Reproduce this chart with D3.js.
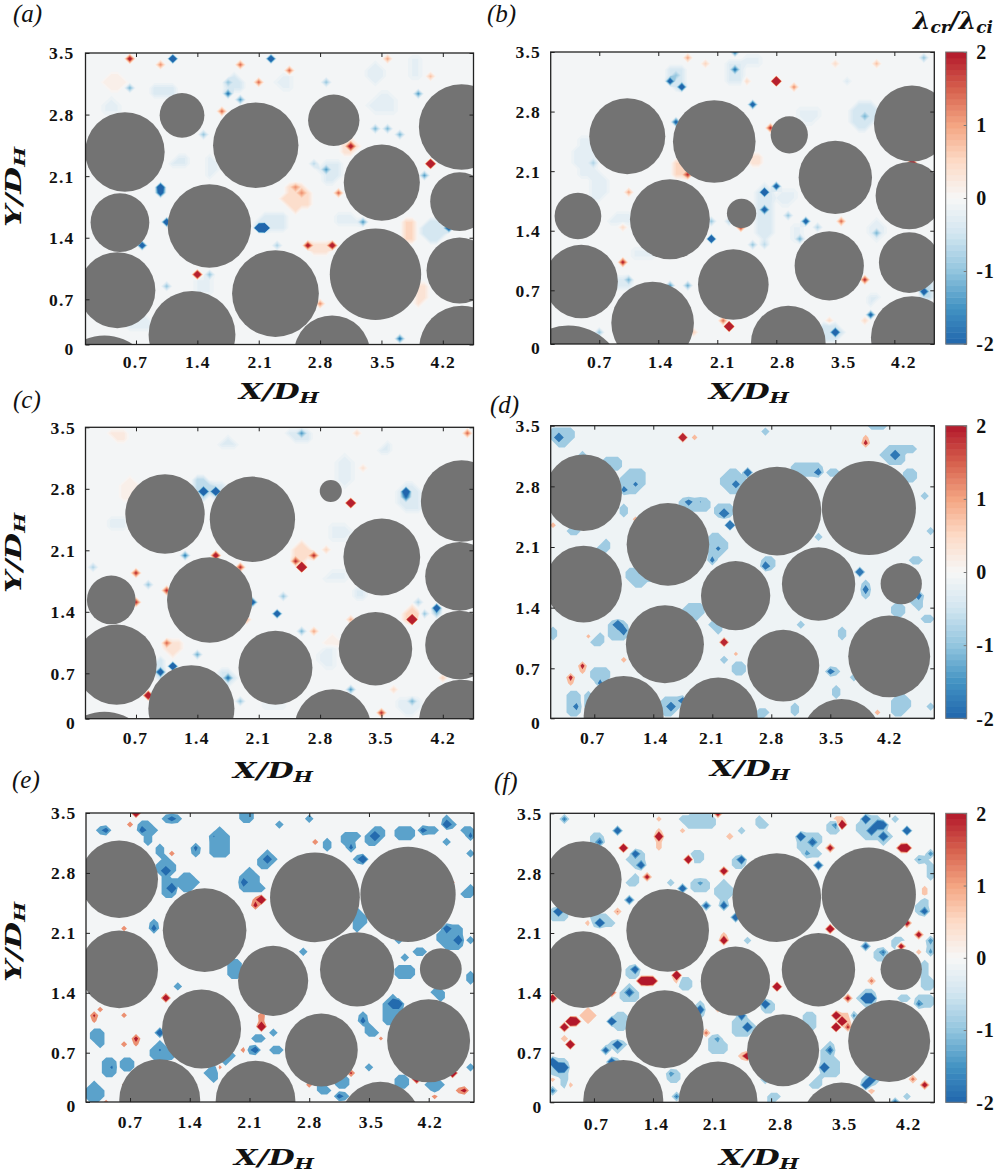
<!DOCTYPE html>
<html>
<head>
<meta charset="utf-8">
<script src="https://cdn.jsdelivr.net/npm/d3@7"></script>
<style>
body { margin: 0; background: #fff; }
svg { display: block; }
</style>
</head>
<body>
<svg id="fig" width="1008" height="1173"></svg>
<script>
// ticks
const xTicks = [0.7, 1.4, 2.1, 2.8, 3.5, 4.2];
const yTicks = [0, 0.7, 1.4, 2.1, 2.8, 3.5];
const cbTicks = [-2, -1, 0, 1, 2];
const cbStops = [-2, -1.5, -1, -0.5, 0, 0.5, 1, 1.5, 2];
const cbColors = ["#2166ac", "#4393c3", "#92c5de", "#d1e5f0", "#f7f7f7", "#fddbc7", "#f4a582", "#d6604d", "#b2182b"];

// particles [x, height, r]; height runs 0 to 3.5 from the bottom to the top of the frame
const circlesA = [[.574,2.312,.453],[1.225,2.752,.255],[2.066,2.392,.487],[2.956,2.692,.293],[4.414,2.612,.487],[3.504,1.944,.434],[4.391,1.716,.335],[.517,1.464,.335],[1.537,1.424,.476],[3.432,.844,.521],[4.391,.888,.377],[.487,.652,.434],[2.291,.612,.495],[1.339,.12,.495],[2.937,-.108,.434],[4.418,-.048,.487],[.339,-.492,.571]];
const circlesB = [[1.032,2.491,.451],[2.064,2.427,.49],[2.954,2.507,.221],[4.409,2.642,.451],[3.5,1.997,.435],[4.377,1.778,.399],[.447,1.534,.277],[1.538,1.495,.474],[2.388,1.566,.174],[3.428,.937,.411],[4.377,.976,.36],[.486,.749,.435],[2.29,.713,.419],[1.333,.251,.49],[2.942,.012,.443],[4.409,.08,.486],[.332,-.446,.66]];
const circlesC = [[1.031,2.459,.453],[2.028,2.395,.487],[2.922,2.735,.126],[4.414,2.615,.464],[3.504,1.942,.438],[4.391,1.71,.392],[.418,1.426,.278],[1.541,1.426,.487],[3.432,.841,.419],[4.391,.885,.392],[.479,.649,.457],[2.291,.613,.422],[1.332,.124,.491],[2.945,-.104,.434],[4.414,-.044,.487],[.339,-.517,.571]];
const circlesDEF = [[.573,2.698,.455],[1.574,2.081,.49],[2.867,2.479,.526],[3.958,2.515,.558],[.573,1.606,.455],[2.377,1.467,.411],[3.361,1.606,.435],[4.342,1.61,.245],[1.538,.885,.463],[2.942,.63,.427],[4.199,.741,.486],[1.048,.028,.474],[2.171,.016,.467],[3.634,-.243,.471]];

// sharp peaks of the field [x, height, value]
const spotsA = [[1.107,3.428,-5],[2.268,3.428,-4],[.612,3.428,2.5],[.955,3.372,1.2],[1.906,3.38,1.5],[2.439,3.304,1.5],[2.077,3.172,1.5],[3.561,3.428,1],[.612,3.104,-1.2],[1.781,3.172,-1],[1.781,3.044,-2],[1.902,2.932,-1.5],[2.896,3.172,-1],[3.934,3.032,-1.5],[4.094,3.244,.8],[1.659,2.784,1.5],[1.476,2.52,-1],[3.455,2.592,-1.2],[3.561,2.592,-1.2],[3.683,2.524,-1.2],[3.135,2.388,2.5],[4.056,2.196,6],[3.999,2.052,-1.5],[2.896,2.068,-1.5],[2.762,2.2,-.7],[1.012,1.86,-4],[.96,1.82,-3],[1.042,1.488,-4],[2.173,1.424,-8],[2.135,1.424,-6],[3.257,1.492,-1.5],[4.246,1.372,-3],[.803,1.224,-3.5],[2.275,1.164,-.8],[2.648,1.164,2.5],[2.945,1.164,3],[1.412,.84,4],[1.537,.84,-1],[1.042,.708,-1],[3.702,.064,-2],[3.018,1.804,1.5],[2.496,1.872,1.2],[2.591,1.804,1.2],[2.781,.512,1.2]];
const spotsB = [[2.329,3.479,-2],[2.329,3.3,-2],[1.558,3.18,-3],[1.62,3.22,-1],[1.657,3.053,-3.5],[2.827,3.117,7],[3,3.089,1.2],[2.527,2.866,-3],[1.598,2.678,-2.5],[2.705,2.555,2],[3.84,2.738,-1.2],[4.425,2.176,4],[1.716,2.053,2],[.621,2.172,-.8],[2.665,1.794,-5],[2.637,1.606,-3],[2.827,1.865,-3],[2.942,1.558,-1],[3.14,1.435,-3],[3.563,1.435,1.5],[3.258,1.367,-.8],[3.072,1.255,-1.2],[2.024,1.24,-5],[2.033,1.487,-1],[2.21,1.435,-.7],[2.4,1.367,2],[2.527,1.176,-1],[2.645,1.188,-.7],[.977,.988,2.2],[4,1.307,-1.2],[1.044,.749,-1.2],[1.776,.705,-1.3],[1.53,.717,-1.5],[3.863,.749,2],[4.583,.63,-3.5],[3.934,.371,-2.5],[2.21,.179,8],[2.2,.303,1.5],[3.523,.132,-4],[3.85,.25,.5],[3.456,.29,.5],[.668,.163,-1],[3.476,3.352,.5],[3.998,3.368,.8],[4.543,3.432,-1],[1.716,3.432,1],[1.965,3.368,.6],[2.44,3.169,.5],[3.634,3.161,-.35],[1.024,1.786,1],[.965,1.407,.5],[1.815,.15,.6]];
const spotsC = [[1.45,2.76,-5],[1.6,2.73,-5],[3.8,2.72,-4],[3.75,2.65,-2],[3.135,2.587,6],[2.584,1.814,8],[2.515,1.886,2],[2.705,1.942,2],[1.278,1.942,-1.8],[1.594,1.942,3],[1.906,1.814,2],[.67,1.746,2],[.175,1.806,-.8],[1.039,1.554,2],[.86,1.594,-1],[2.04,1.426,-3],[2.4,1.486,-1],[2.279,1.286,-4],[.688,1.366,2],[2.59,1.037,-1.2],[2.76,1.037,1],[1.963,1.157,1],[3.82,1.157,8],[4.125,1.358,-4],[4,1.233,-1],[3.94,1.426,-.8],[4.13,1.233,-1],[3.124,1.165,.9],[1.05,.913,1.5],[1.415,.773,-1.3],[1.115,.645,-5],[.982,.525,-3.5],[1.727,.485,-2],[.806,.304,4],[3.124,.384,-1.5],[1.906,.184,-1],[3.82,.184,-1.2],[3.5,.064,2],[2.618,3.428,-1.5],[4.494,3.428,1.5],[3.2,3.428,.5],[2.896,2.006,.6],[3.31,2.98,.4],[3.675,.332,.5],[4.21,.465,.6]];
const spotsD = [[.305,3.372,-3],[1.044,2.738,-2],[1.222,2.806,-1.5],[1.843,2.603,-2],[1.954,2.603,-1.3],[2.515,2.91,-4],[2.397,2.8,-2],[2.27,2.48,-5],[2.33,2.284,-7],[3.377,2.92,-2.5],[4.247,3.15,-4],[2.09,1.905,-2],[2.15,2.03,-1.5],[2.705,1.84,-3],[3.87,1.778,-4],[3.93,1.527,-2.5],[4.54,1.455,-2.5],[1,1.096,-6],[1.036,1.028,-3],[3.507,.57,-2.5],[1.598,.12,-3],[1.716,.19,-3],[.483,.128,-1.8],[.8,.446,-2],[1.776,3.376,5],[1.906,3.368,.9],[3.94,3.31,2],[1.163,2.41,.9],[.233,2.29,.9],[2.27,.897,4],[.55,.61,2],[.423,.47,2],[1.083,.686,.9],[.61,.95,.7],[2.4,.75,.7],[4.05,.04,.9]];
const spotsE = [[.387,3.3,-3],[.856,3.3,-3],[1.19,3.44,-3],[1.657,3.25,-1.8],[1.48,3.05,-2.5],[2.33,2.93,-3],[3.44,2.93,-6],[3.3,3.11,-2.5],[3.55,3.23,-5],[4.43,3.37,-5],[4.16,3.29,-3],[4.66,3.23,-2.5],[1.1,2.8,-4],[1.16,2.58,-8],[2.03,2.67,-3],[.98,2.12,-3],[4.44,2.09,-4],[4.55,1.98,-5],[3.75,1.2,-5],[3.86,1.2,-5],[3.45,1.01,-3],[1.03,.82,-4.5],[2.15,.63,-4],[3.17,.065,-3],[.485,.45,-1.9],[1.044,.64,-1.8],[.8,3.48,5],[.73,3.37,1.3],[2.89,3.18,1.3],[1.17,2.98,1.2],[.61,2.09,1.2],[2.215,2.48,6],[2.145,2.41,2.5],[.3,1.08,2],[1.1,1.27,4],[1.96,1.71,1.3],[4.51,2.66,1],[.61,1.02,1.2],[.31,.95,.95],[.61,.7,1.3],[.8,.76,2.5],[.8,.67,1],[2.215,.945,6],[2.26,1.03,1.5],[2.01,.65,1.3],[1.78,.45,1],[2.83,.185,1.3],[3.32,.315,2],[3.62,.76,.95],[4.05,.245,5],[4.49,.315,6],[4.59,.145,2.5],[4.24,.055,1.3],[.6,.2,1],[.446,0,1]];
const spotsF = [[.35,3.46,-2],[.97,3.31,-4],[.77,3.17,-2.5],[1.16,2.98,-3.5],[1.27,2.86,-3.5],[2.45,2.92,-4],[1.72,2.6,-4],[1.95,2.63,-1.3],[1.1,2.42,-3.5],[2.01,2.39,-3],[2.27,2.35,-3.5],[2.35,2.23,-4],[3.38,2.85,-4],[3.18,3.19,-5],[3.3,3.16,-3],[3.2,2.99,-1.5],[3.54,3.36,-2],[3.95,3.4,-5],[4.05,3.36,-4],[4.13,3.38,-4],[4.01,3.28,-4],[4.15,3.19,-4],[4.43,3.3,-5],[4.58,2.94,-1.3],[4.71,2.98,-1.8],[4.6,2.33,-3],[.27,2.28,-6],[.77,2.17,-5],[3.89,1.9,-3],[4.12,1.84,-2],[4.68,1.84,-1.5],[4.71,1.97,-1.8],[1.18,1.58,-3.5],[1.13,1.31,-3],[.91,.95,-5],[1.95,1.1,-4],[2.76,1.16,-5],[2.47,1.02,-4],[2.51,.92,-5],[3.89,1.24,-7],[3.96,1.24,-6],[4.56,1.2,-2],[2.15,.75,-1.5],[.985,.69,-5],[.85,.64,-3],[.905,.505,-4],[3.5,.61,-2.5],[3.46,.39,-7],[.27,.41,-7],[.35,.41,-5],[.23,.47,-5],[3.93,.21,-5],[3.99,.27,-5],[.19,.13,-2],[2.7,.25,-2],[1.7,.06,-2],[1.63,.32,-1.5],[4.29,.03,-2.5],[3.75,1.08,-1.5],[1.47,3.19,5],[1.04,3.06,5],[1.83,2.93,5],[2.27,2.79,4],[1.35,2.73,2.5],[3.67,3.37,6],[3.5,3.06,3],[4.41,3.06,5],[4.33,3.06,4],[2.3,3.22,1],[1.72,3.26,.7],[1.48,3.46,.7],[2.14,3.48,3],[.97,2.29,1.2],[.6,2.16,.8],[2.26,1.99,4],[3.5,2.09,5],[4.56,2.04,3],[4.39,2.15,3],[4.35,1.86,3],[4.52,1.8,.7],[1.36,1.45,6],[1.28,1.47,5],[1.42,1.44,5],[1.68,1.54,6],[2.9,1.42,6],[4,1.46,1.5],[3.69,1.27,2.5],[.925,1.32,3],[.19,1.29,4],[2.03,.81,1.5],[3.58,1.08,5],[3.6,.92,7],[3.63,.96,7],[3.71,.9,2],[.43,.98,7],[.33,.92,5],[.5,.98,5],[.39,.69,6],[.33,.75,1],[2.49,.56,4],[2.45,.54,1],[4.48,.26,1.5],[4.6,.2,3],[4,.13,1],[.45,.19,.7],[.19,.27,.7],[2.15,1.1,.7]];

// broad regions of the field [x, height, rx, ry, value]
const patchesA = [[2.534,1.772,.13,.14,.45],[3.827,1.372,.05,.12,.5],[3.94,.61,.06,.1,.35],[2.8,1.164,.14,.03,.4],[3.124,2.352,.07,.08,.4],[4.113,1.372,.1,.1,-.5],[3.086,1.492,.12,.06,-.25],[2.27,1.47,.15,.07,-.35],[3.52,2.892,.14,.1,-.2],[3.428,3.252,.1,.08,-.25],[3.885,3.312,.06,.1,-.2],[1.81,3.13,.07,.08,-.4],[1.03,3.03,.13,.05,-.35],[.42,2.85,.1,.07,-.2],[2.4,3.13,.07,.08,-.2],[1.545,2.13,.04,.09,-.25],[1.22,2.2,.09,.03,-.3],[2.914,2.09,.09,.11,-.3],[1.47,.69,.1,.07,-.2],[.745,.25,.1,.08,-.25],[.48,3.15,.1,.05,.2]];
const patchesB = [[3.83,2.74,.15,.14,-.4],[3.18,2.74,.12,.06,-.2],[.55,2.24,.12,.2,-.25],[.69,1.89,.08,.14,-.25],[2.65,1.57,.1,.3,-.35],[2.92,1.77,.1,.07,-.2],[3.04,1.33,.06,.1,-.2],[1.62,3.2,.1,.1,-.4],[2.31,3.26,.08,.12,-.3],[2.53,3.38,.07,.06,-.2],[.95,1.49,.1,.05,-.25],[1.22,1.09,.15,.05,-.2],[3.99,1.37,.07,.1,-.25],[.985,.75,.1,.05,-.35],[3.45,.13,.1,.1,-.5],[4.58,.69,.07,.12,-.6],[1.66,2.1,.08,.07,.5],[2.55,2.22,.05,.06,.4],[3.93,.55,.04,.05,-.3]];
const patchesC = [[1.45,2.77,.07,.09,-.7],[1.66,2.73,.06,.09,-.4],[3.83,2.65,.13,.15,-.3],[3.085,2.97,.06,.17,-.2],[3.03,2.25,.1,.1,-.2],[2.59,2,.07,.1,.45],[1.107,.865,.09,.07,.35],[.61,2.75,.08,.1,.2],[.5,3.41,.06,.05,.25],[2.57,3.41,.1,.06,-.35],[1.75,3.3,.07,.04,-.3],[3.83,1.25,.07,.06,.5],[3,1.7,.12,.05,-.2],[2.9,.75,.08,.1,-.2],[3.28,1.49,.05,.05,-.3],[.97,.6,.05,.1,-.5],[1.73,.49,.07,.1,-.4],[.48,2.35,.07,.05,-.25],[2.27,.18,.15,.05,-.15],[3.83,.17,.12,.08,-.25],[2.95,.93,.06,.03,.2],[3.56,3.25,.04,.04,-.3]];
const patchesD = [[.312,3.388,.12,.1,-.9],[.886,3.03,.12,.08,-.9],[1.163,2.85,.12,.14,-.9],[1.044,2.48,.04,.04,-.9],[.55,3.17,.03,.03,-.9],[1.914,2.55,.18,.09,-.9],[2.35,2.83,.11,.14,-.9],[3.22,2.97,.17,.06,-.9],[2.23,2.49,.1,.06,-.9],[3.535,2.93,.08,.04,-.9],[4.247,3.15,.14,.08,-.9],[4.405,3.23,.12,.04,-.9],[4.445,2.91,.06,.06,-.9],[4.6,2.67,.04,.04,-.9],[4.66,2.21,.08,.02,-.9],[2.15,2.07,.1,.12,-.9],[3.38,2.16,.04,.04,-.9],[4.525,1.89,.06,.06,-.9],[.807,2.05,.04,.06,-.9],[.45,2.23,.04,.04,-.9],[1.24,1.71,.16,.1,-.9],[2.74,1.85,.06,.08,-.9],[3.93,1.53,.05,.12,-.9],[4.54,1.43,.06,.1,-.9],[1.875,1.275,.14,.08,-.9],[2.15,1.12,.04,.1,-.9],[.985,1.056,.1,.1,-.9],[.23,1.016,.04,.03,-.9],[.75,.916,.06,.06,-.9],[3.17,1.148,.05,.03,-.9],[3.63,1.016,.04,.04,-.9],[4.64,1.216,.1,.03,-.9],[4.305,1.295,.04,.05,-.9],[2.21,.69,.03,.03,-.9],[2.41,.6,.1,.04,-.9],[3.53,.57,.08,.05,-.9],[3.56,.32,.04,.04,-.9],[.787,.54,.1,.08,-.9],[4.33,.16,.1,.12,-.9],[3.75,.48,.03,.06,-.9],[.45,.16,.08,.14,-.9],[.61,.22,.04,.08,-.9],[1.58,.14,.1,.08,-.9],[1.72,.2,.04,.04,-.9],[2.685,.06,.06,.06,-.9],[3.07,.12,.03,.05,-.9],[4.7,.13,.03,.05,-.9],[2.7,3.42,.03,.03,-.9],[4.09,3.47,.15,.03,-.9],[3.94,3.33,.04,.05,.8],[.55,.61,.03,.07,.8],[.423,.47,.03,.07,.8]];
const patchesE = [[.387,3.3,.07,.06,-1.3],[.895,3.3,.09,.1,-1.3],[.92,3.18,.03,.03,-1.3],[1.19,3.44,.12,.05,-1.3],[2.07,3.46,.06,.06,-1.3],[2.46,3.37,.04,.04,-1.3],[2.83,3.44,.04,.04,-1.3],[1.755,3.13,.12,.18,-1.3],[1.044,3.04,.05,.06,-1.3],[1.48,3.04,.06,.06,-1.3],[2.3,2.93,.09,.1,-1.3],[3.26,3.21,.11,.07,-1.3],[3.3,3.11,.04,.04,-1.3],[3.55,3.21,.1,.08,-1.3],[3.61,3.29,.06,.04,-1.3],[3.93,3.25,.12,.1,-1.3],[4.16,3.29,.08,.05,-1.3],[4.29,3.3,.03,.04,-1.3],[4.43,3.37,.06,.08,-1.3],[4.63,3.26,.1,.04,-1.3],[4.43,3.17,.04,.04,-1.3],[3.415,2.93,.06,.05,-1.3],[3,3.11,.06,.08,-1.3],[4.66,2.55,.06,.05,-1.3],[4.7,2.98,.03,.03,-1.3],[1.13,2.83,.1,.12,-1.3],[1.17,2.59,.08,.1,-1.3],[1.365,2.65,.12,.09,-1.3],[2.11,2.67,.1,.14,-1.3],[2.24,2.61,.06,.03,-1.3],[.98,2.12,.05,.08,-1.3],[3.39,2.2,.05,.14,-1.3],[4.45,2,.14,.16,-1.3],[4.1,1.82,.07,.07,-1.3],[3.93,1.78,.03,.03,-1.3],[2.76,1.81,.04,.08,-1.3],[3.92,1.56,.11,.07,-1.3],[4.7,1.48,.02,.08,-1.3],[4.33,1.32,.08,.08,-1.3],[3.79,1.15,.1,.12,-1.3],[3.73,1.01,.07,.06,-1.3],[1.91,1.6,.09,.1,-1.3],[1.275,1.4,.03,.05,-1.3],[3.45,1.01,.05,.05,-1.3],[3.53,.85,.06,.08,-1.3],[2.4,.82,.04,.04,-1.3],[2.21,.77,.06,.06,-1.3],[2.44,.63,.08,.05,-1.3],[2.15,.63,.05,.05,-1.3],[.33,.79,.08,.1,-1.3],[1.03,.82,.04,.04,-1.3],[1.05,.61,.1,.12,-1.3],[1.17,.57,.04,.05,-1.3],[.46,.43,.09,.1,-1.3],[.65,.47,.08,.08,-1.3],[1.67,.35,.07,.09,-1.3],[1.85,.55,.05,.08,-1.3],[3.5,.44,.04,.04,-1.3],[2.97,.15,.07,.07,-1.3],[3.2,.23,.08,.08,-1.3],[3.16,.07,.08,.06,-1.3],[3.88,.23,.06,.07,-1.3],[4.25,.21,.1,.08,-1.3],[.27,.1,.1,.12,-1.3],[4.7,.45,.03,.04,-1.3],[4.7,1.98,.03,.03,-1.3],[3.82,1.96,.03,.04,-1.3],[2.17,2.44,.05,.05,1.2],[.33,1.11,.05,.05,1.2],[4.59,.15,.05,.05,1.2],[2.25,1,.04,.08,1.2]];
const patchesF = [[1.95,3.4,.2,.1,-.8],[.35,3.44,.06,.05,-.8],[2.69,3.38,.06,.05,-.8],[2.47,3.3,.03,.03,-.8],[3.99,3.34,.16,.14,-.8],[4.13,3.2,.08,.06,-.8],[3.24,3.16,.14,.12,-.8],[3.3,3.02,.06,.06,-.8],[3.56,3.34,.08,.08,-.8],[4.6,2.94,.08,.06,-.8],[4.68,2.77,.04,.1,-.8],[2.43,2.9,.08,.08,-.8],[1.93,2.96,.06,.06,-.8],[2.25,2.55,.08,.12,-.8],[1.96,2.63,.07,.09,-.8],[1.59,2.67,.04,.05,-.8],[1.18,2.67,.07,.06,-.8],[.73,3.18,.08,.05,-.8],[1.22,2.93,.1,.1,-.8],[.79,2.19,.12,.07,-.8],[.29,2.27,.11,.08,-.8],[4.6,2.35,.06,.1,-.8],[4.09,1.8,.08,.06,-.8],[4.29,1.93,.06,.06,-.8],[4.68,1.84,.04,.06,-.8],[4.62,1.64,.05,.1,-.8],[4.66,1.44,.05,.06,-.8],[4.6,1.22,.11,.06,-.8],[4.37,1.27,.04,.04,-.8],[1.18,1.58,.07,.08,-.8],[1.78,1.44,.05,.08,-.8],[1.12,1.32,.1,.08,-.8],[1,.98,.12,.08,-.8],[1.95,1.1,.06,.1,-.8],[2.47,.92,.12,.12,-.8],[3.26,.98,.08,.08,-.8],[2.76,1.16,.06,.06,-.8],[2.15,.69,.11,.11,-.8],[.985,.69,.08,.06,-.8],[3.48,.59,.08,.12,-.8],[3.52,.41,.11,.1,-.8],[3.34,.23,.06,.06,-.8],[3.93,1.26,.11,.08,-.8],[3.97,.27,.1,.06,-.8],[4.43,.07,.04,.04,-.8],[2.82,.05,.06,.06,-.8],[1.63,.32,.07,.06,-.8],[.93,.47,.08,.05,-.8],[.34,.23,.04,.08,-.8],[.29,.41,.12,.1,-.8],[1.7,.07,.04,.04,-.8],[4.29,3.43,.04,.04,-.8],[2.51,1.97,.03,.03,-.8],[.63,1.04,.07,.09,.7],[4.64,2.57,.04,.05,.7],[1.47,3.19,.04,.1,.7],[3.62,3.4,.06,.05,.7],[2.26,2,.04,.07,.7],[1.68,1.5,.05,.07,.7],[3.67,1.03,.06,.06,.7]];

// contour bands per panel: [threshold, value that picks the fill colour]
const fineBands = d3.range(-2, 2, 0.1).map(t => [t, t + 0.05]);
const bandsD = [[-1.25, -0.9], [-0.35, -0.12], [0.4, 0.8], [1.25, 1.9]];
const bandsE = [[-1.7, -1.35], [-0.4, -0.05], [0.6, 1.15], [1.6, 2]];
const bandsF = [[-1.7, -1.4], [-1.05, -0.85], [-0.3, -0.04], [0.35, 0.7], [1, 1.3], [1.6, 2]];

const color = d3.scaleLinear().domain(cbStops).range(cbColors).clamp(true);
const svg = d3.select("#fig");
const serif = "'Liberation Serif', serif";
const mathFont = "'DejaVu Serif', serif";

// layout of the six panels, measured on the figure. y07 is the pixel of the 0.7 tick,
// the 0 label of the original sits on the frame, not one step below 0.7
const panels = [
  { id: "a", L: 85.5, R: 473.5, T: 53, B: 344.5, y07: 299.3, x0: .124, x1: 4.55, circles: circlesA, spots: spotsA, patches: patchesA, bands: fineBands, base: -.05, under: -2, pad: .03,
    lx: 13, ly: 22, tickDx: [-1,0,1,0,1,0], tickY: 23, yRight: 74.5, xl: [239, 399], yl: 227 },
  { id: "b", L: 550.7, R: 934.3, T: 52, B: 344, y07: 290.3, x0: .124, x1: 4.674, circles: circlesB, spots: spotsB, patches: patchesB, bands: fineBands, base: -.05, under: -2, pad: .03,
    lx: 487, ly: 22, tickDx: [0,2,5,6,8,9], tickY: 24, yRight: 541, xl: [709, 399], cb: true },
  { id: "c", L: 85.5, R: 473.5, T: 427.3, B: 718.7, y07: 673.3, x0: .124, x1: 4.55, circles: circlesC, spots: spotsC, patches: patchesC, bands: fineBands, base: -.05, under: -2, pad: .03,
    lx: 13, ly: 408, tickDx: [-1,-1,-1,0,-1,0], tickY: 25.5, yRight: 76, xl: [233, 778], yl: 593 },
  { id: "d", L: 550.7, R: 934.3, T: 425.7, B: 718.3, y07: 668.3, x0: .183, x1: 4.734, circles: circlesDEF, spots: spotsD, patches: patchesD, bands: bandsD, base: -.12, under: -1.8, pad: .01,
    lx: 490, ly: 413, tickDx: [-2,2,-1,0,1,0], tickY: 26, yRight: 541, xl: [710, 776], cb: true },
  { id: "e", L: 86, R: 474, T: 813, B: 1102, y07: 1052.7, x0: .184, x1: 4.731, circles: circlesDEF, spots: spotsE, patches: patchesE, bands: bandsE, base: -.05, under: -1.95, pad: 0,
    lx: 12, ly: 788, tickDx: [0,0,0,0,2,1], tickY: 26, yRight: 76.5, xl: [234, 1164.5], yl: 982 },
  { id: "f", L: 550.3, R: 934.3, T: 813.3, B: 1102.3, y07: 1052.7, x0: .183, x1: 4.734, circles: circlesDEF, spots: spotsF, patches: patchesF, bands: bandsF, base: -.04, under: -1.95, pad: .01,
    lx: 494, ly: 790, tickDx: [2,3,3,9,14,19], tickY: 28, yRight: 542.5, xl: [719, 1164.5], cb: true }
];

// field lives on a coarse grid, contoured like the original
const cell = 0.07, gx0 = -0.14, gy0 = -0.14, nx = 74, ny = 55;

function buildField(p) {
  const vals = new Array(nx * ny).fill(p.base);
  const put = (i, j, v) => {
    if (i < 0 || j < 0 || i >= nx || j >= ny) return;
    const k = j * nx + i;
    if (Math.abs(v) > Math.abs(vals[k])) vals[k] = v;
  };
  p.patches.forEach(([x, y, rx, ry, v]) => {
    for (let j = 0; j < ny; j++) for (let i = 0; i < nx; i++) {
      const a = (gx0 + i * cell - x) / (rx + p.pad), b = (gy0 + j * cell - y) / (ry + p.pad);
      if (a * a + b * b <= 1) put(i, j, v);
    }
    put(Math.round((x - gx0) / cell), Math.round((y - gy0) / cell), v);
  });
  p.spots.forEach(([x, y, v]) => put(Math.round((x - gx0) / cell), Math.round((y - gy0) / cell), v));
  return vals;
}

// text helper for the bold math labels (X/D_H etc)
function mathLabel(g, parts, x, y, len, size, rotate) {
  const t = g.append("text")
    .attr("font-family", mathFont).attr("font-weight", "bold").attr("font-style", "italic")
    .attr("font-size", size).attr("fill", "#111")
    .attr("textLength", len).attr("lengthAdjust", "spacingAndGlyphs");
  if (rotate) t.attr("transform", `translate(${x},${y}) rotate(-90)`);
  else t.attr("x", x).attr("y", y);
  let prevSub = false;
  parts.forEach(([s, sub]) => {
    t.append("tspan").attr("font-size", sub ? size * 0.68 : size)
      .attr("dy", sub ? 4 : (prevSub ? -4 : 0)).text(s);
    prevSub = sub;
  });
}

panels.forEach(p => {
  const g = svg.append("g");
  const x = d3.scaleLinear().domain([p.x0, p.x1]).range([p.L, p.R]);
  const y = d3.scaleLinear().domain([0, 3.5]).range([p.B, p.T]);
  // axis scale: even steps from 0.7 to 3.5, then the 0 on the frame
  const yAxis = d3.scaleLinear().domain([0, 0.7, 3.5]).range([p.B, p.y07, p.T]);
  const clipId = "clip-" + p.id;
  g.append("clipPath").attr("id", clipId).append("rect")
    .attr("x", p.L).attr("y", p.T).attr("width", p.R - p.L).attr("height", p.B - p.T);

  const plot = g.append("g").attr("clip-path", `url(#${clipId})`);
  plot.append("rect").attr("x", p.L).attr("y", p.T).attr("width", p.R - p.L).attr("height", p.B - p.T)
    .attr("fill", color(p.under));

  const path = d3.geoPath(d3.geoTransform({
    point(gx, gy) { this.stream.point(x(gx0 + (gx - .5) * cell), y(gy0 + (gy - .5) * cell)); }
  }));
  const contours = d3.contours().size([nx, ny]).thresholds(p.bands.map(b => b[0]))(buildField(p));
  plot.selectAll(".band").data(contours).enter().append("path")
    .attr("class", "band")
    .attr("d", path)
    .attr("fill", (d, i) => color(p.bands[i][1]));

  plot.selectAll(".particle").data(p.circles).enter().append("circle")
    .attr("class", "particle")
    .attr("cx", d => x(d[0]))
    .attr("cy", d => y(d[1]))
    .attr("r", d => x(d[2]) - x(0))
    .attr("fill", "#737373");

  // axes, ticks pointing inwards on all four sides
  const bottom = g.append("g").attr("transform", `translate(0,${p.B})`)
    .call(d3.axisBottom(x).tickValues(xTicks).tickSize(-4).tickSizeOuter(0).tickFormat(d3.format(".1f")));
  g.append("g").attr("transform", `translate(0,${p.T})`)
    .call(d3.axisTop(x).tickValues(xTicks).tickSize(-4).tickSizeOuter(0).tickFormat(""));
  const left = g.append("g").attr("transform", `translate(${p.L},0)`)
    .call(d3.axisLeft(yAxis).tickValues(yTicks).tickSize(-4).tickSizeOuter(0).tickFormat(d => d === 0 ? "0" : d3.format(".1f")(d)));
  g.append("g").attr("transform", `translate(${p.R},0)`)
    .call(d3.axisRight(yAxis).tickValues(yTicks).tickSize(-4).tickSizeOuter(0).tickFormat(""));

  g.selectAll(".domain").remove();
  g.selectAll(".tick line").attr("stroke", "#222").attr("stroke-width", 1);

  bottom.selectAll("text")
    .attr("x", (d, i) => p.tickDx[i]).attr("y", p.tickY).attr("dy", 0);
  left.selectAll("text")
    .attr("x", p.yRight - p.L).attr("dy", "0.34em")
    .attr("y", d => d === 0 ? 4 : 0);
  g.selectAll(".tick text")
    .attr("font-family", serif).attr("font-weight", "bold").attr("font-size", 17.5)
    .attr("letter-spacing", 1.2).attr("fill", "#111");

  g.append("rect").attr("x", p.L).attr("y", p.T).attr("width", p.R - p.L).attr("height", p.B - p.T)
    .attr("fill", "none").attr("stroke", "#222").attr("stroke-width", 1.3);

  // panel letter and axis titles
  g.append("text").attr("x", p.lx).attr("y", p.ly)
    .attr("font-family", serif).attr("font-style", "italic").attr("font-size", 25).attr("fill", "#111")
    .text(`(${p.id})`);
  mathLabel(g, [["X/D", false], ["H", true]], p.xl[0], p.xl[1], 80, 23, false);
  if (p.yl) mathLabel(g, [["Y/D", false], ["H", true]], 21, p.yl, 80, 23, true);

  // colour bar on the right hand panels
  if (p.cb) {
    const cbX = 945.7, cbW = 21;
    const cy = d3.scaleLinear().domain([-2, 2]).range([p.B, p.T]);
    const steps = d3.range(-2, 2, 0.08);
    g.selectAll(".step").data(steps).enter().append("rect")
      .attr("class", "step")
      .attr("x", cbX).attr("width", cbW)
      .attr("y", d => cy(d + 0.08))
      .attr("height", d => cy(d) - cy(d + 0.08) + 0.5)
      .attr("fill", d => color(d + 0.04));
    g.append("rect").attr("x", cbX).attr("y", p.T).attr("width", cbW).attr("height", p.B - p.T)
      .attr("fill", "none").attr("stroke", "#777").attr("stroke-width", 1);
    const cbAxis = g.append("g").attr("transform", `translate(${cbX + cbW},0)`)
      .call(d3.axisRight(cy).tickValues(cbTicks).tickSize(-3).tickSizeOuter(0).tickFormat(d3.format("d")));
    cbAxis.select(".domain").remove();
    cbAxis.selectAll("line").attr("stroke", "#777");
    cbAxis.selectAll("text")
      .attr("x", 9.5).attr("dy", "0.34em")
      .attr("font-family", serif).attr("font-weight", "bold").attr("font-size", 20)
      .attr("letter-spacing", 1).attr("fill", "#111")
      .text(d => d < 0 ? "-" + Math.abs(d) : d);
  }
});

mathLabel(svg, [["λ", false], ["cr", true], ["/λ", false], ["ci", true]], 913, 29, 80, 24, false);
</script>
</body>
</html>
